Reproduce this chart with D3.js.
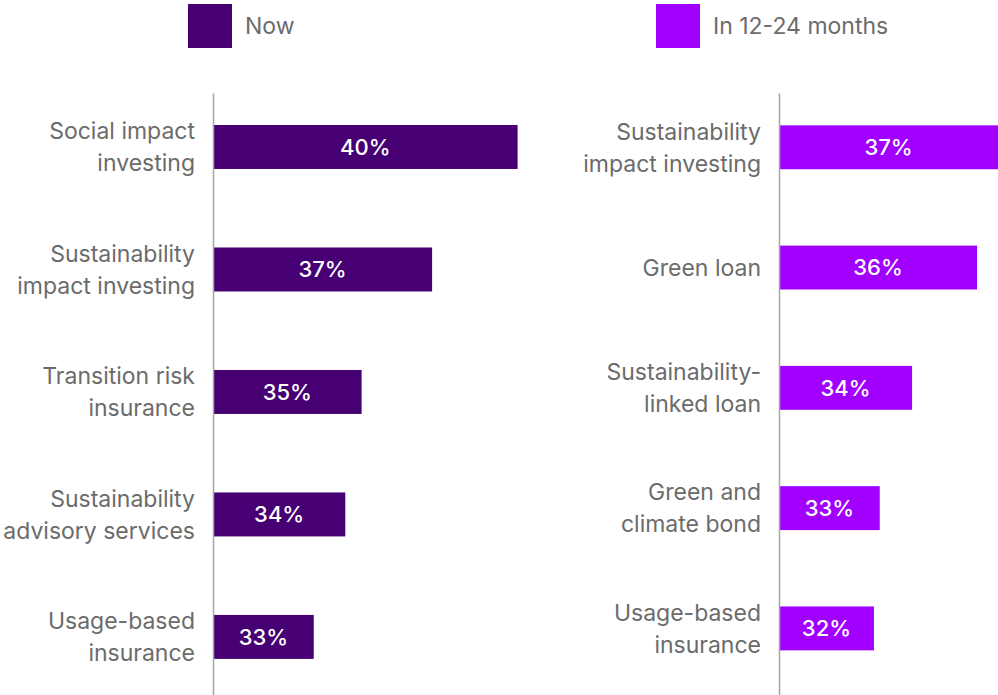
<!DOCTYPE html>
<html>
<head>
<meta charset="utf-8">
<script src="https://cdn.jsdelivr.net/npm/d3@7"></script>
<style>
  html, body { margin: 0; padding: 0; background: #fff; }
  svg { display: block; font-family: Inter, Roboto, "Noto Sans", sans-serif; }
  .cat text { fill: #6b6b6b; font-size: 23px; }
  .val { fill: #fff; font-size: 22px; font-weight: 500; }
  .legend text { fill: #6b6b6b; font-size: 23px; }
</style>
</head>
<body>
<svg id="chart" width="998" height="695"></svg>
<script>
// left panel: now
const nowCategories = [
  'Social impact\ninvesting',
  'Sustainability\nimpact investing',
  'Transition risk\ninsurance',
  'Sustainability\nadvisory services',
  'Usage-based\ninsurance'
];
const nowValues = [40.45, 37.2, 34.52, 33.9, 32.7];

// right panel: in 12-24 months
const laterCategories = [
  'Sustainability\nimpact investing',
  'Green loan',
  'Sustainability-\nlinked loan',
  'Green and\nclimate bond',
  'Usage-based\ninsurance'
];
const laterValues = [37.2, 36.4, 33.93, 32.7, 32.48];

const seriesNames = ['Now', 'In 12-24 months'];
const colors = ['#460073', '#a100ff'];

const svg = d3.select('#chart');

// shared value scale (bars don't start at zero in the original)
const x = d3.scaleLinear().domain([28.87, 40.58]).range([0, 308]);

function panel(cats, vals, axisX, color, band) {
  const y = d3.scaleBand()
    .domain(cats)
    .range([93, 695])
    .paddingInner(band.inner)
    .paddingOuter(band.outer)
    .align(band.align);

  const g = svg.append('g').attr('transform', `translate(${axisX},0)`);

  g.selectAll('rect')
    .data(vals)
    .join('rect')
    .attr('x', 0)
    .attr('y', (d, i) => y(cats[i]))
    .attr('width', d => x(d))
    .attr('height', y.bandwidth())
    .attr('fill', color);

  g.selectAll('text.val')
    .data(vals)
    .join('text')
    .attr('class', 'val')
    .attr('x', d => x(d) / 2)
    .attr('y', (d, i) => y(cats[i]) + y.bandwidth() / 2)
    .attr('dy', '0.36em')
    .attr('text-anchor', 'middle')
    .text(d => Math.round(d) + '%');

  const ax = g.append('g')
    .attr('class', 'cat')
    .call(d3.axisLeft(y).tickSize(0).tickSizeOuter(0).tickPadding(18));

  ax.select('.domain').attr('stroke', '#a6a6a6').attr('stroke-width', 1.5);
  ax.selectAll('.tick text')
    .each(function(d) {
      const t = d3.select(this);
      const lines = d.split('\n');
      t.text(null).attr('dy', null);
      lines.forEach((ln, i) => {
        t.append('tspan')
          .attr('x', -18)
          .attr('dy', i === 0 ? (0.36 * 23 - (lines.length - 1) * 16) + 'px' : '32px')
          .text(ln);
      });
    });
  ax.attr('font-size', null).attr('font-family', null);
}

panel(nowCategories, nowValues, 213, colors[0], { inner: 0.641, outer: 0.278, align: 0.47 });
panel(laterCategories, laterValues, 779, colors[1], { inner: 0.635, outer: 0.32, align: 0.42 });

// legend
const legendX = [188, 656];
const legend = svg.append('g').attr('class', 'legend');
seriesNames.forEach((name, i) => {
  legend.append('rect')
    .attr('x', legendX[i]).attr('y', 4)
    .attr('width', 44).attr('height', 44)
    .attr('fill', colors[i]);
  legend.append('text')
    .attr('x', legendX[i] + 57).attr('y', 34)
    .text(name);
});
</script>
</body>
</html>
